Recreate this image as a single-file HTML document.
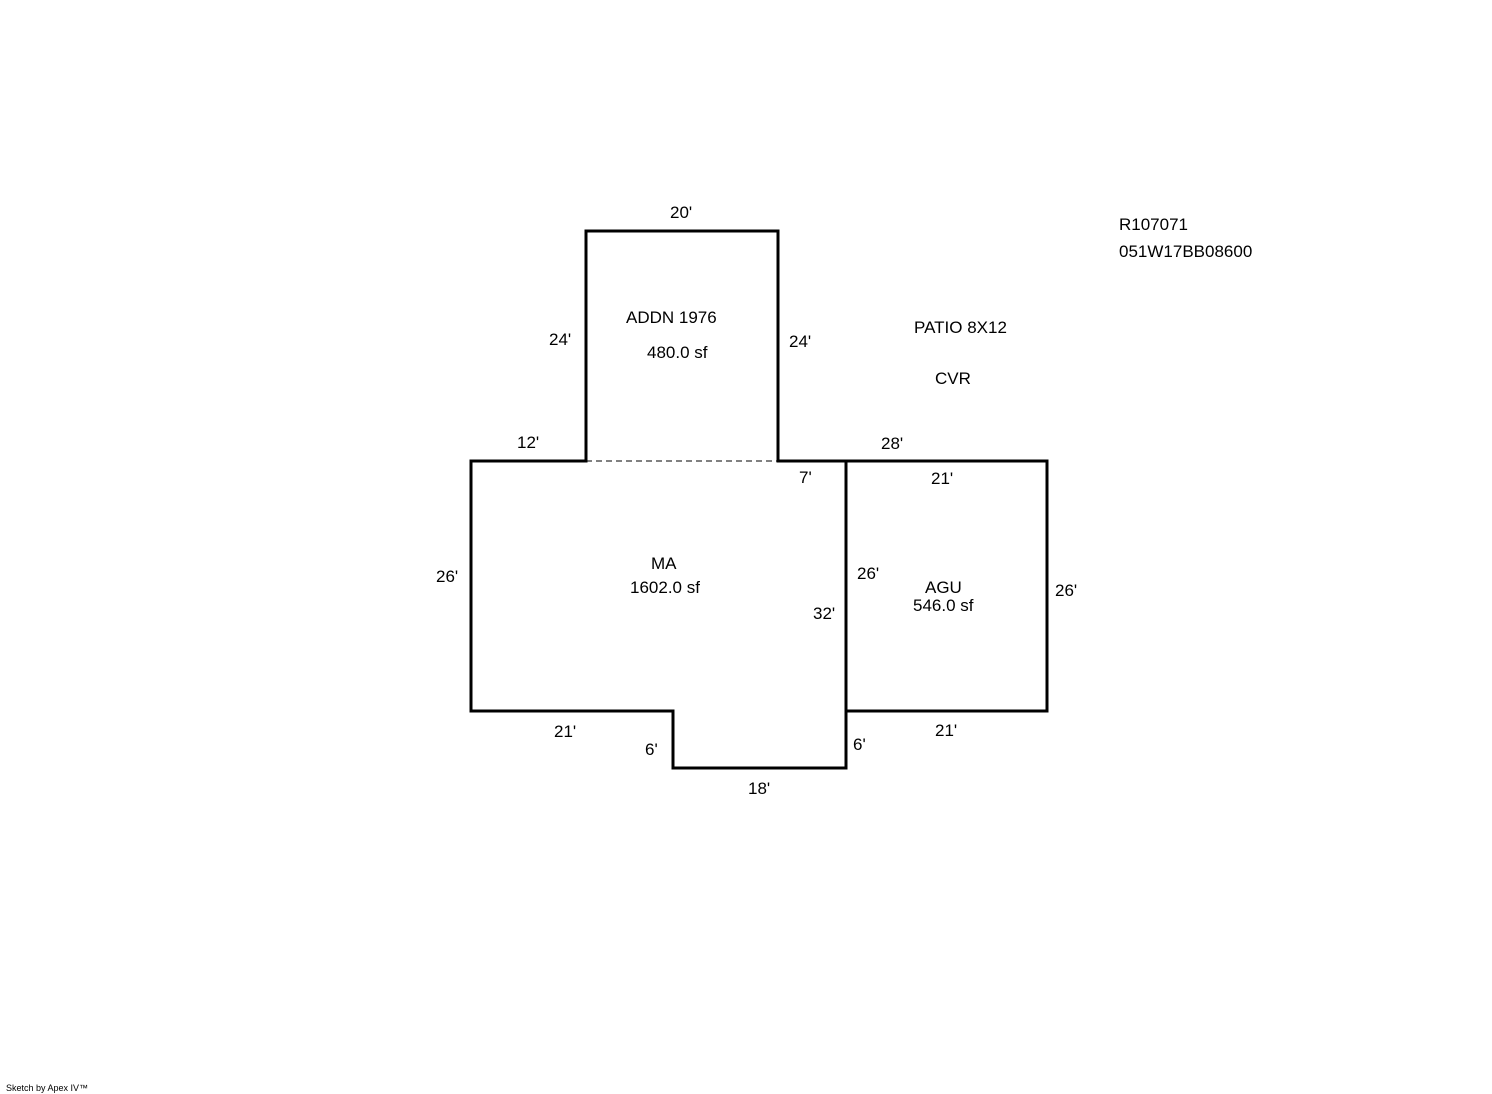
<!DOCTYPE html>
<html><head><style>html,body{margin:0;padding:0;background:#fff}svg{display:block}</style></head>
<body>
<svg width="1492" height="1094" xmlns="http://www.w3.org/2000/svg" font-family="Liberation Sans, Arial, sans-serif" font-size="17" fill="#000">
<g fill="none" stroke="#000" stroke-width="3" stroke-linecap="square">
<polyline points="586,461 586,231 778,231 778,461"/>
<polyline points="586,461 471,461 471,711 673,711 673,768 846,768 846,461 778,461"/>
<rect x="846" y="461" width="201" height="250"/>
</g>
<line x1="586" y1="461" x2="778" y2="461" stroke="#000" stroke-width="1" stroke-dasharray="6,4"/>
<g>
<text x="670" y="218">20'</text>
<text x="549" y="345">24'</text>
<text x="789" y="347">24'</text>
<text x="626" y="323">ADDN 1976</text>
<text x="647" y="358">480.0 sf</text>
<text x="914" y="333">PATIO 8X12</text>
<text x="935" y="384">CVR</text>
<text x="1119" y="230">R107071</text>
<text x="1119" y="257">051W17BB08600</text>
<text x="517" y="448">12'</text>
<text x="881" y="449">28'</text>
<text x="799" y="483">7'</text>
<text x="931" y="484">21'</text>
<text x="436" y="582">26'</text>
<text x="651" y="569">MA</text>
<text x="630" y="593">1602.0 sf</text>
<text x="857" y="579">26'</text>
<text x="925" y="593">AGU</text>
<text x="913" y="611">546.0 sf</text>
<text x="813" y="619">32'</text>
<text x="1055" y="596">26'</text>
<text x="554" y="737">21'</text>
<text x="935" y="736">21'</text>
<text x="645" y="755">6'</text>
<text x="853" y="750">6'</text>
<text x="748" y="794">18'</text>
<text x="6" y="1091" font-size="9">Sketch by Apex IV™</text>
</g>
</svg>
</body></html>
